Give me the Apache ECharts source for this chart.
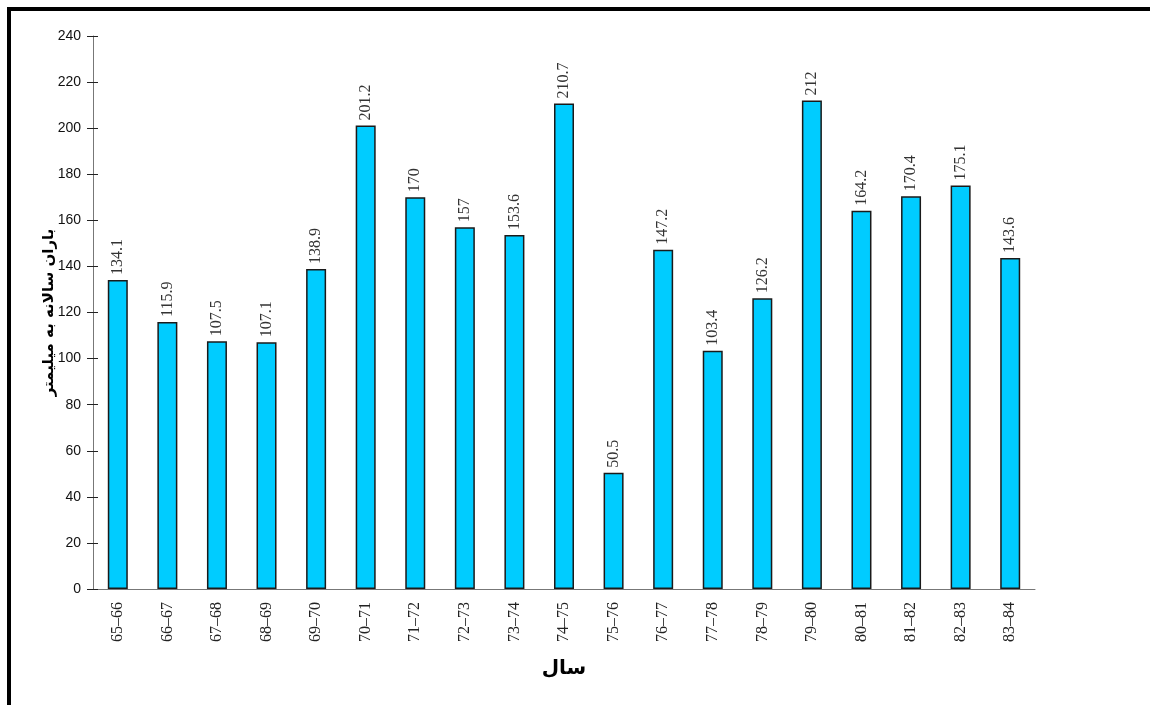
<!DOCTYPE html>
<html>
<head>
<meta charset="utf-8">
<script src="https://cdn.jsdelivr.net/npm/echarts@6/dist/echarts.min.js"></script>
<style>html,body{margin:0;padding:0;background:#fff;}#c{width:1150px;height:705px;}</style>
</head>
<body>
<div id="c"></div>
<script>
const categories = ['65–66','66–67','67–68','68–69','69–70','70–71','71–72','72–73','73–74','74–75','75–76','76–77','77–78','78–79','79–80','80–81','81–82','82–83','83–84'];
const rainfall = [134.1,115.9,107.5,107.1,138.9,201.2,170,157,153.6,210.7,50.5,147.2,103.4,126.2,212,164.2,170.4,175.1,143.6];
const yTicks = {min:0, max:240, interval:20};
const yName = 'باران سالانه به میلیمتر';
const xName = 'سال';

const chart = echarts.init(document.getElementById('c'), null, {renderer:'canvas'});
chart.setOption({
  animation:false,
  backgroundColor:'#fff',
  graphic:[{type:'rect', shape:{x:9, y:9, width:1300, height:900}, style:{fill:'none', stroke:'#000', lineWidth:4}, silent:true}],
  grid:{left:93, right:115, top:36, bottom:116},
  xAxis:[{
    type:'category', data:categories,
    axisLine:{lineStyle:{color:'#777', width:1}},
    axisTick:{length:6, lineStyle:{color:'#222'}},
    axisLabel:{rotate:90, margin:13, fontFamily:'Liberation Serif', fontSize:16, color:'#222'},
    name:xName, nameLocation:'middle', nameGap:70, nameMoveOverlap:false,
    nameTextStyle:{fontFamily:'DejaVu Sans', fontWeight:'bold', fontSize:20, color:'#000'}
  },{
    type:'category', data:categories, position:'bottom',
    axisLine:{show:false}, axisLabel:{show:false},
    axisTick:{inside:true, length:6, lineStyle:{color:'#222'}}
  }],
  yAxis:[{
    type:'value', min:yTicks.min, max:yTicks.max, interval:yTicks.interval,
    splitLine:{show:false},
    axisLine:{show:true, lineStyle:{color:'#777', width:1}},
    axisTick:{show:true, length:6, lineStyle:{color:'#222'}},
    axisLabel:{margin:12, fontFamily:'Liberation Sans', fontSize:14, color:'#111'},
    name:yName, nameLocation:'middle', nameGap:36, nameMoveOverlap:false,
    nameTextStyle:{fontFamily:'DejaVu Sans', fontWeight:'bold', fontSize:15, color:'#000'}
  },{
    type:'value', min:yTicks.min, max:yTicks.max, interval:yTicks.interval, position:'left',
    splitLine:{show:false}, axisLine:{show:false}, axisLabel:{show:false},
    axisTick:{show:true, inside:true, length:5, lineStyle:{color:'#222'}}
  }],
  series:[{
    type:'bar', data:rainfall, barWidth:20,
    itemStyle:{color:'#00CCFF', borderColor:'#1a1a1a', borderWidth:1.5},
    label:{show:true, position:'top', rotate:90, align:'left', verticalAlign:'middle', distance:5,
      fontFamily:'Liberation Serif', fontSize:16, color:'#333'}
  }]
});
</script>
</body>
</html>
